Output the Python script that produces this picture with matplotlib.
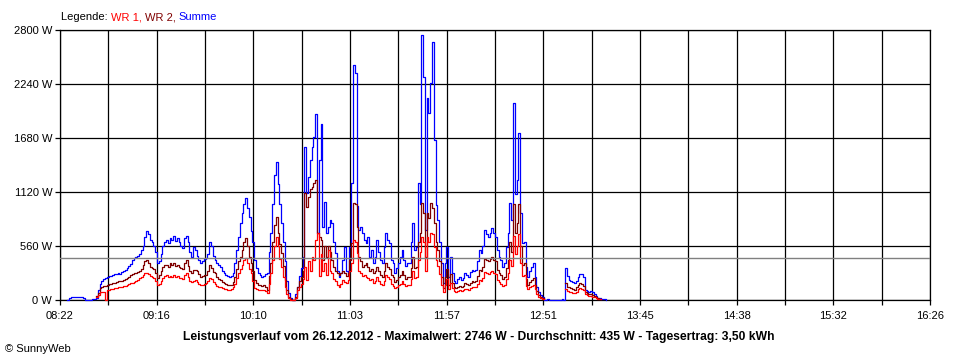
import numpy as np
import matplotlib
matplotlib.use("Agg")
import matplotlib.pyplot as plt

N = None

# time axis: minutes after midnight, one sample per minute starting 08:26
T_START = 8 * 60 + 26
X_MIN, X_MAX = 8 * 60 + 22, 16 * 60 + 26
TICK_LABELS = ["08:22", "09:16", "10:10", "11:03", "11:57",
               "12:51", "13:45", "14:38", "15:32", "16:26"]
Y_TICKS = [0, 560, 1120, 1680, 2240, 2800]
AVG_W = 435

summe = [
    0, 20, 30, 35, 35, 30, 35, 30, 30, 25,
    0, 0, 0, 0, 10, 15, 20, 100, 170, 200,
    220, 230, 240, 250, 245, 260, 265, 270, 280, 270,
    290, 300, 310, 330, 350, 370, 420, 440, 450, 460,
    480, 520, 560, 650, 715, 680, 620, 600, 560, 500,
    380, 400, 480, 560, 600, 622, 590, 640, 620, 660,
    610, 640, 600, 560, 536, 640, 664, 600, 500, 449,
    553, 520, 455, 420, 380, 400, 425, 440, 480, 605,
    560, 460, 420, 380, 360, 345, 300, 277, 260, 250,
    242, 250, 277, 380, 518, 650, 795, 900, 1000, 1055,
    950, 864, 720, 600, 420, 330, 277, 260, 242, 250,
    270, 280, 500, 700, 1000, 1300, 1434, 1200, 1000, 800,
    600, 400, 200, 69, 20, 0, 0, 60, 138, 250,
    330, 449, 1590, 1110, 1280, 1452, 1590, 1693, 1925, 695,
    1452, 1822, 760, 1020, 700, 760, 826, 795, 600, 484,
    300, 242, 277, 420, 553, 300, 277, 553, 1210, 2437,
    2350, 970, 726, 760, 700, 620, 591, 656, 449, 520,
    383, 450, 622, 500, 415, 383, 550, 695, 620, 591,
    420, 383, 280, 330, 383, 450, 518, 420, 349, 380,
    383, 600, 795, 518, 553, 1210, 1000, 2746, 2316, 726,
    2090, 1935, 2247, 2680, 1657, 983, 830, 600, 380, 180,
    383, 553, 242, 450, 280, 200, 173, 220, 242, 208,
    230, 280, 260, 242, 290, 311, 300, 311, 400, 518,
    483, 560, 726, 680, 656, 700, 743, 700, 656, 518,
    450, 420, 345, 380, 553, 700, 1003, 830, 2040, 1100,
    1245, 1728, 900, 588, 600, 345, 242, 300, 345, 380,
    242, 138, 80, 52, 35, 0, 0, 10, 5, 0,
    0, 0, 0, 0, 0, 10, 0, 329, 250, 207,
    200, 190, 173, 200, 242, 273, 266, 242, 104, 90,
    86, 95, 80, 60, 40, 25, 20, 15, 12, 10,
    0,
]

wr2 = [
    N, N, N, N, N, N, N, N, N, N,
    N, N, N, N, N, N, 40, 69, 121, 138,
    145, 150, 160, 165, 170, 175, 180, 190, 195, 200,
    200, 207, 215, 225, 240, 255, 270, 280, 285, 290,
    300, 320, 363, 400, 415, 380, 345, 330, 320, 280,
    225, 260, 300, 340, 363, 363, 345, 380, 360, 380,
    350, 363, 345, 330, 320, 380, 415, 350, 300, 277,
    311, 311, 300, 270, 242, 250, 255, 260, 300, 363,
    330, 290, 277, 240, 220, 207, 190, 173, 165, 160,
    155, 160, 190, 242, 320, 400, 449, 520, 600, 640,
    560, 449, 380, 300, 207, 180, 160, 155, 150, 160,
    140, 104, 250, 380, 600, 780, 864, 691, 580, 484,
    350, 207, 100, 35, 10, 0, 0, 35, 138, 200,
    242, 300, 1106, 967, 1071, 1150, 1175, 1210, 1244, 695,
    650, 622, 415, 560, 450, 564, 500, 415, 345, 300,
    277, 260, 277, 300, 277, 250, 277, 415, 591, 1003,
    1000, 760, 449, 400, 345, 360, 380, 345, 300, 320,
    277, 300, 345, 300, 260, 242, 300, 380, 345, 320,
    260, 240, 190, 210, 240, 260, 300, 260, 220, 240,
    242, 330, 449, 330, 345, 600, 700, 1005, 900, 450,
    900, 850, 1005, 950, 800, 600, 520, 400, 242, 120,
    242, 320, 160, 270, 173, 140, 120, 140, 150, 140,
    150, 173, 165, 160, 180, 200, 190, 200, 250, 311,
    300, 345, 430, 415, 400, 430, 449, 420, 400, 311,
    280, 260, 220, 240, 330, 420, 600, 500, 1000, 700,
    800, 1000, 560, 360, 380, 220, 160, 190, 210, 230,
    160, 90, 50, 30, 20, N, N, N, N, N,
    N, N, N, N, N, N, N, 173, 140, 130,
    120, 110, 104, 130, 160, 173, 165, 150, 86, 70,
    60, 60, 52, 40, 30, 24, 10, N, N, N,
    N,
]

wr1 = [
    N, N, N, N, N, N, N, N, N, N,
    N, N, N, N, N, N, 30, 52, 86, 86,
    86, 0, 104, 104, 110, 115, 120, 125, 130, 138,
    140, 145, 150, 160, 165, 173, 180, 190, 200, 210,
    225, 240, 260, 277, 280, 270, 250, 242, 230, 200,
    155, 170, 200, 230, 250, 260, 240, 250, 235, 260,
    240, 250, 230, 225, 220, 260, 277, 240, 200, 190,
    200, 210, 190, 170, 155, 160, 170, 180, 200, 225,
    220, 190, 170, 150, 140, 130, 121, 115, 110, 104,
    104, 110, 130, 170, 230, 277, 320, 360, 410, 432,
    380, 320, 277, 200, 121, 110, 104, 100, 100, 105,
    90, 70, 170, 280, 420, 560, 657, 560, 430, 340,
    240, 140, 60, 20, 5, 0, 0, 20, 100, 140,
    170, 220, 345, 207, 400, 300, 449, 415, 622, 700,
    250, 480, 300, 380, 260, 518, 300, 277, 220, 200,
    160, 138, 170, 207, 190, 180, 207, 300, 380, 622,
    600, 483, 300, 277, 250, 260, 240, 230, 207, 220,
    180, 200, 240, 200, 170, 160, 200, 260, 240, 220,
    170, 150, 120, 140, 160, 170, 200, 170, 150, 160,
    160, 220, 300, 230, 240, 420, 500, 650, 600, 300,
    650, 600, 700, 680, 550, 420, 350, 270, 160, 80,
    160, 220, 110, 180, 120, 95, 80, 95, 100, 95,
    100, 115, 110, 105, 120, 135, 130, 135, 170, 207,
    200, 230, 290, 277, 270, 290, 300, 280, 270, 207,
    190, 170, 150, 160, 220, 280, 420, 350, 660, 480,
    560, 680, 380, 250, 260, 150, 110, 130, 145, 155,
    110, 60, 35, 20, 10, N, N, N, N, N,
    N, N, N, N, N, N, N, 110, 90, 85,
    80, 75, 70, 85, 110, 120, 115, 105, 60, 50,
    40, 40, 35, 30, 20, 15, 8, N, N, N,
    N,
]

summe = np.array(summe, dtype=float)
wr1 = np.array(wr1, dtype=float)
wr2 = np.array(wr2, dtype=float)
t = T_START + np.arange(len(summe))

FONT = "Liberation Sans"
plt.rcParams["font.family"] = FONT

fig = plt.figure(figsize=(9.6, 3.6), dpi=100)
ax = fig.add_axes([60 / 960, 60 / 360, 870 / 960, 270 / 360])

line_kw = dict(drawstyle="steps-post", lw=0.9, clip_on=False)
ax.plot(t, summe, color="#0000ff", zorder=3, **line_kw)
ax.plot(t, wr2, color="#800000", zorder=4, **line_kw)
ax.plot(t, wr1, color="#ff0000", zorder=5, **line_kw)
ax.axhline(AVG_W, color="#808080", lw=1.0, zorder=6)

ax.set_xlim(X_MIN, X_MAX)
ax.set_ylim(0, 2800)
step = (X_MAX - X_MIN) / 18
ax.set_xticks([X_MIN + 2 * k * step for k in range(10)])
ax.set_xticklabels(TICK_LABELS)
ax.set_xticks([X_MIN + (2 * k + 1) * step for k in range(9)], minor=True)
ax.set_yticks(Y_TICKS)
ax.set_yticklabels([f"{v} W" for v in Y_TICKS])

ax.grid(which="both", axis="x", color="black", lw=0.9, zorder=1)
ax.grid(which="major", axis="y", color="black", lw=0.9, zorder=1)
ax.set_axisbelow(True)
for sp in ax.spines.values():
    sp.set_color("black")
    sp.set_linewidth(0.9)
ax.tick_params(axis="both", which="both", direction="out", length=3.6,
               width=0.9, color="black", labelsize=8)
ax.tick_params(axis="x", pad=4)
ax.tick_params(axis="y", pad=2)

# legend line on top
t1 = fig.text(61 / 960, 1 - 22 / 360, "Legende: ", fontsize=8, color="black", va="bottom")
t2 = ax.annotate("WR 1, ", xy=(1, 0), xycoords=t1, va="bottom", fontsize=8, color="#ff0000")
t3 = ax.annotate("WR 2, ", xy=(1, 0), xycoords=t2, va="bottom", fontsize=8, color="#800000")
ax.annotate("Summe", xy=(1, 0), xycoords=t3, va="bottom", fontsize=8, color="#0000ff")

fig.text(479 / 960, 1 - 337 / 360,
         "Leistungsverlauf vom 26.12.2012 - Maximalwert: 2746 W - Durchschnitt: 435 W - Tagesertrag: 3,50 kWh",
         ha="center", va="center", fontsize=8.7, fontweight="bold")
fig.text(5 / 960, 1 - 349 / 360, "\u00a9 SunnyWeb", ha="left", va="center", fontsize=8)

fig.savefig("out.png", dpi=100, facecolor="white")
